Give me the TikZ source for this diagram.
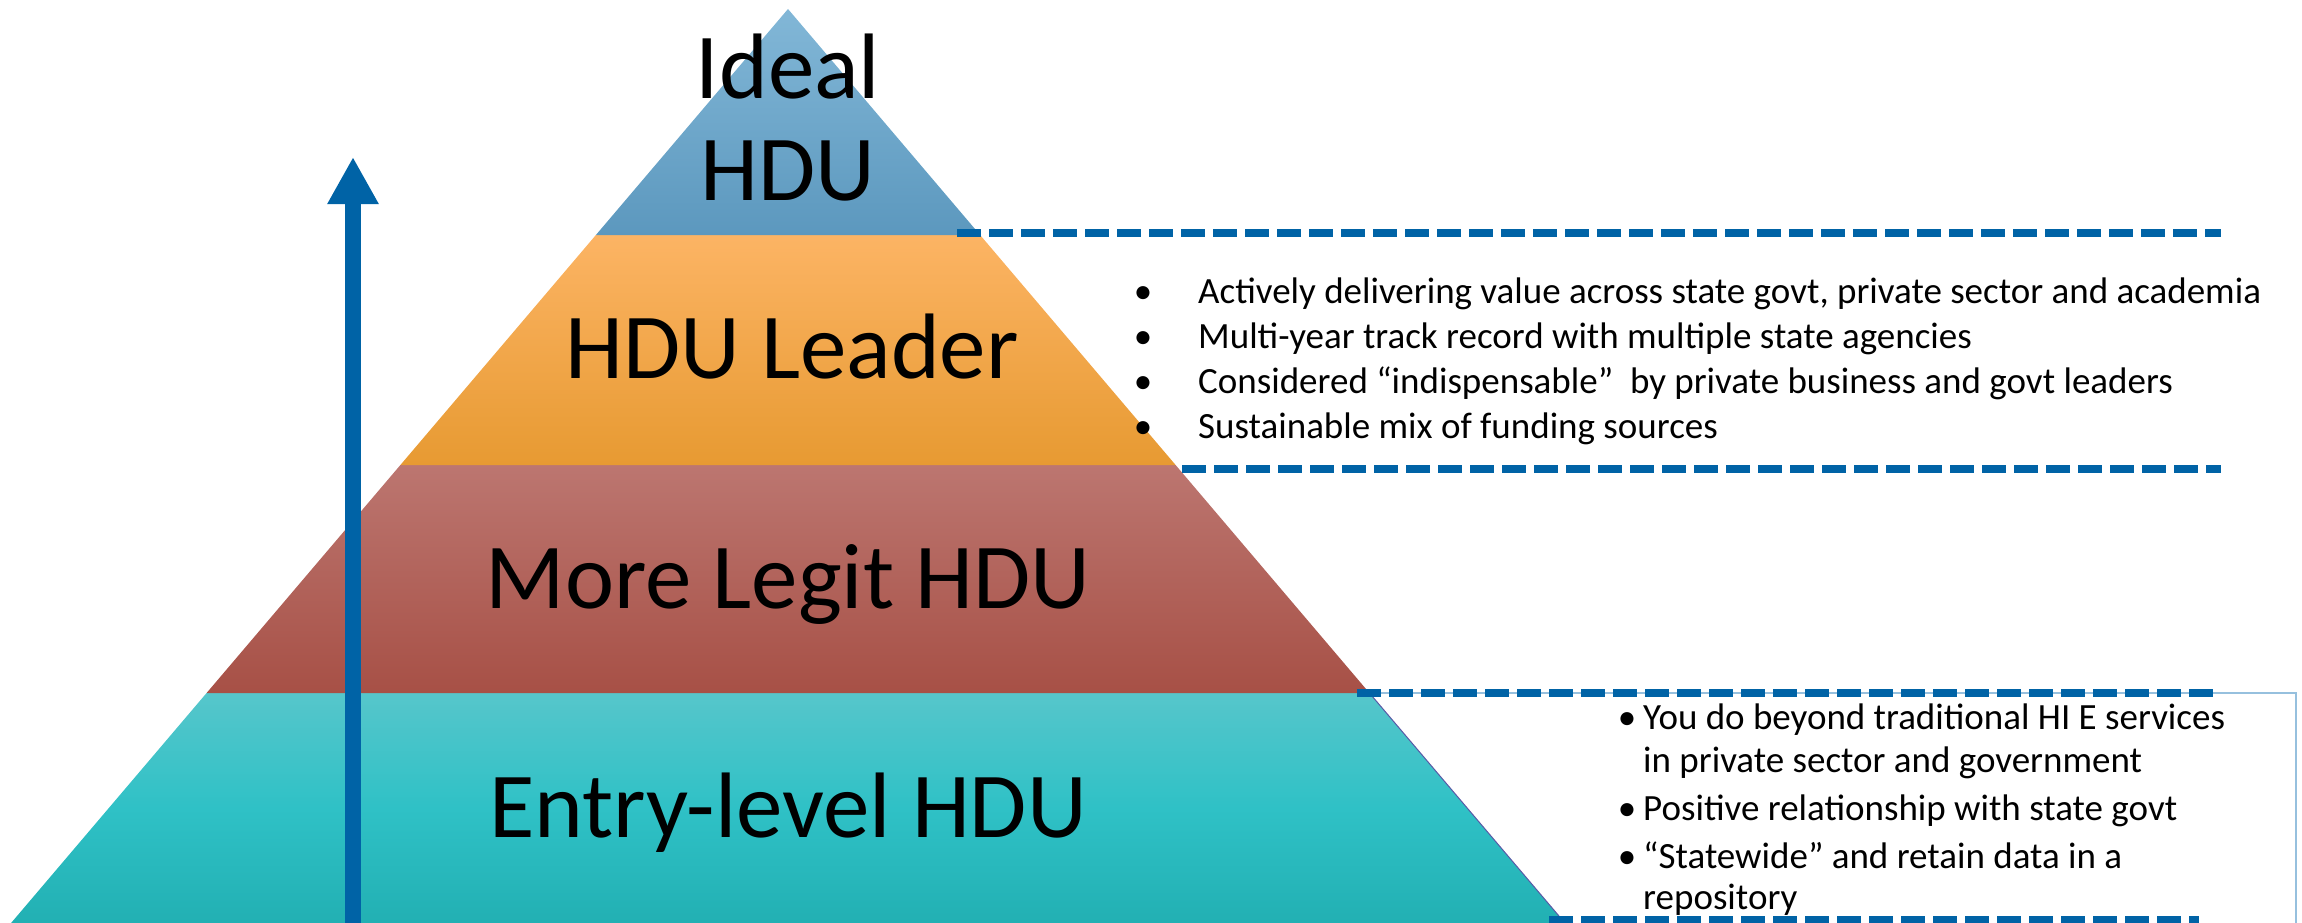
\documentclass[tikz,border=0pt]{standalone}
\usepackage{fontspec}
\setmainfont{Carlito}
\usetikzlibrary{arrows.meta}
\definecolor{dashblue}{RGB}{0,99,166}
\definecolor{boxline}{RGB}{150,192,222}
\definecolor{blueT}{RGB}{130,183,215}
\definecolor{blueB}{RGB}{92,152,190}
\definecolor{oraT}{RGB}{252,180,100}
\definecolor{oraB}{RGB}{231,154,50}
\definecolor{redT}{RGB}{188,118,112}
\definecolor{redB}{RGB}{167,80,70}
\definecolor{tealT}{RGB}{86,198,203}
\definecolor{tealM}{RGB}{47,193,198}
\definecolor{tealB}{RGB}{34,176,179}
\tikzset{
  levellabel/.style={font=\fontsize{93}{101}\selectfont, anchor=base, inner sep=0pt},
  bullettext/.style={font=\fontsize{37}{45}\selectfont, anchor=base west, inner sep=0pt},
  bulletdot/.style={font=\fontsize{37}{45}\selectfont, anchor=base, inner sep=0pt},
  levelline/.style={dashblue, line width=7.3pt, dash pattern=on 24pt off 8pt},
}
\begin{document}
\begin{tikzpicture}[x=1pt,y=-1pt]
\useasboundingbox (0,0) rectangle (2302,923);
\clip (0,0) rectangle (2302,923);
% box behind the lower list
\draw[boxline, line width=1.6pt] (1360,693) -- (2296,693) -- (2296,940);
% pyramid layers
\shade[top color=tealT, bottom color=tealB, middle color=tealM] (206.6,693) -- (1369.4,693) -- (1564.9,923) -- (11.1,923) -- cycle;
\draw[gray!70!blue, line width=1pt] (1369.4,693) -- (1564.9,923);
\shade[top color=redT, bottom color=redB] (400.4,465) -- (1175.6,465) -- (1369.4,693) -- (206.6,693) -- cycle;
\shade[top color=oraT, bottom color=oraB] (595.9,235) -- (980.1,235) -- (1175.6,465) -- (400.4,465) -- cycle;
\shade[top color=blueT, bottom color=blueB] (788,9) -- (980.1,235) -- (595.9,235) -- cycle;
% dashed level lines
\coordinate (l1a) at (957,233);  \coordinate (l1b) at (2221,233);
\coordinate (l2a) at (1182,469); \coordinate (l2b) at (2221,469);
\coordinate (l3a) at (1357,693); \coordinate (l3b) at (2213,693);
\coordinate (l4a) at (1549,920); \coordinate (l4b) at (2199,920);
\draw[levelline] (l1a) -- (l1b);
\draw[levelline] (l2a) -- (l2b);
\draw[levelline] (l3a) -- (l3b);
\draw[levelline] (l4a) -- (l4b);
% progress arrow
\coordinate (arrowfoot) at (353,930);
\coordinate (arrowtip) at (353,157);
\draw[dashblue, line width=16pt, -{Triangle[width=48pt,length=47pt]}] (arrowfoot) -- (arrowtip);
% level labels
\node[levellabel] (ideal1) at (788,99) {Ideal};
\node[levellabel] (ideal2) at (788,200) {HDU};
\node[levellabel] (leader) at (792,378) {HDU Leader};
\node[levellabel] (legit) at (788,608) {More Legit HDU};
\node[levellabel] (entry) at (788,837) {Entry-level HDU};
% upper list
\node[bulletdot] (ub1) at (1143,303) {•};
\node[bullettext] (ut1) at (1198,303) {Actively delivering value across state govt, private sector and academia};
\node[bulletdot] (ub2) at (1143,348) {•};
\node[bullettext] (ut2) at (1198,348) {Multi-year track record with multiple state agencies};
\node[bulletdot] (ub3) at (1143,393) {•};
\node[bullettext] (ut3) at (1198,393) {Considered “indispensable”\ \ by private business and govt leaders};
\node[bulletdot] (ub4) at (1143,438) {•};
\node[bullettext] (ut4) at (1198,438) {Sustainable mix of funding sources};
% lower list
\node[bulletdot] (lb1) at (1627,729) {•};
\node[bullettext] (lt1) at (1643,729) {You do beyond traditional HI E services};
\node[bullettext] (lt1b) at (1643,772) {in private sector and government};
\node[bulletdot] (lb2) at (1627,820) {•};
\node[bullettext] (lt2) at (1643,820) {Positive relationship with state govt};
\node[bulletdot] (lb3) at (1627,868) {•};
\node[bullettext] (lt3) at (1643,868) {“Statewide” and retain data in a};
\node[bullettext] (lt3b) at (1643,909) {repository};
\end{tikzpicture}
\end{document}
